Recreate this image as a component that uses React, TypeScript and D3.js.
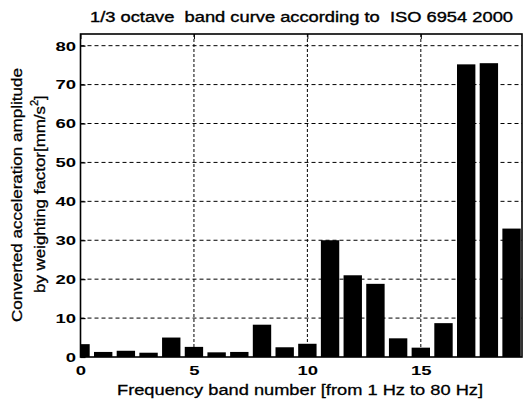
import React, { useEffect, useRef } from "react";
import * as d3 from "d3";

// band index 0..19 (1 Hz .. 80 Hz)
const bands = d3.range(0, 20);
const amplitudes = [
  3.3, 1.3, 1.6, 1.1, 5.0, 2.6, 1.2, 1.3, 8.3, 2.5,
  3.4, 30.0, 21.0, 18.8, 4.8, 2.4, 8.7, 75.2, 75.5, 33.0,
];
const yTicks = [0, 10, 20, 30, 40, 50, 60, 70, 80];
const xTicks = [0, 5, 10, 15];

const title = "1/3 octave  band curve according to  ISO 6954 2000";
const xLabel = "Frequency band number [from 1 Hz to 80 Hz]";
const yLabel1 = "Converted acceleration amplitude";
const yLabel2 = "by weighting factor[mm/s";

const App = () => {
  const ref = useRef<SVGSVGElement>(null);

  useEffect(() => {
    document.body.style.margin = "0";
    const width = 523;
    const height = 405;
    const margin = { top: 34, left: 80.5, bottom: 48, right: 1 };
    const font = "Liberation Sans, Arial, sans-serif";

    const svg = d3.select(ref.current);
    svg.selectAll("*").remove();
    svg.attr("width", width).attr("height", height).style("background", "#fff")
      .style("display", "block");

    const x = d3
      .scaleLinear()
      .domain([0, 19.46])
      .range([margin.left, width - margin.right]);
    const y = d3
      .scaleLinear()
      .domain([0, 83])
      .range([height - margin.bottom, margin.top]);

    const data = bands.map((b, i) => ({ band: b, value: amplitudes[i] }));
    const bw = (x(1) - x(0)) * 0.81;

    svg
      .append("clipPath")
      .attr("id", "plotclip")
      .append("rect")
      .attr("x", margin.left)
      .attr("y", margin.top)
      .attr("width", width - margin.right - margin.left)
      .attr("height", height - margin.bottom - margin.top);

    // grid
    const grid = svg.append("g").attr("stroke", "#000").attr("stroke-width", 1);
    grid
      .selectAll("line.h")
      .data(yTicks.filter((d) => d > 0))
      .enter()
      .append("line")
      .attr("stroke-dasharray", "4,3")
      .attr("x1", margin.left)
      .attr("x2", width - margin.right)
      .attr("y1", (d) => y(d))
      .attr("y2", (d) => y(d));
    grid
      .selectAll("line.v")
      .data(xTicks.filter((d) => d > 0))
      .enter()
      .append("line")
      .attr("stroke-dasharray", "3,2")
      .attr("x1", (d) => x(d))
      .attr("x2", (d) => x(d))
      .attr("y1", margin.top)
      .attr("y2", height - margin.bottom);

    // bars
    svg
      .append("g")
      .attr("clip-path", "url(#plotclip)")
      .selectAll("rect")
      .data(data)
      .enter()
      .append("rect")
      .attr("x", (d) => x(d.band) - bw / 2)
      .attr("y", (d) => y(d.value))
      .attr("width", bw)
      .attr("height", (d) => y(0) - y(d.value))
      .attr("fill", "#000");

    // box
    svg
      .append("rect")
      .attr("x", margin.left)
      .attr("y", margin.top)
      .attr("width", width - margin.right - margin.left)
      .attr("height", height - margin.bottom - margin.top)
      .attr("fill", "none")
      .attr("stroke", "#000")
      .attr("stroke-width", 1.6);

    // axes
    const xAxis = svg
      .append("g")
      .attr("transform", `translate(0, ${height - margin.bottom})`)
      .call(d3.axisBottom(x).tickValues(xTicks).tickSize(-5).tickPadding(8).tickSizeOuter(0));
    const yAxis = svg
      .append("g")
      .attr("transform", `translate(${margin.left}, 0)`)
      .call(d3.axisLeft(y).tickValues(yTicks).tickSize(-5).tickPadding(4.5).tickSizeOuter(0));
    svg
      .append("g")
      .attr("transform", `translate(0, ${margin.top})`)
      .call(d3.axisTop(x).tickValues(xTicks).tickSize(-5).tickFormat(() => "").tickSizeOuter(0))
      .call((g) => g.select(".domain").remove());
    [xAxis, yAxis].forEach((g) => {
      g.select(".domain").remove();
      g.selectAll("line").attr("stroke-width", 1.2);
      g.selectAll<SVGTextElement, number>("text")
        .attr("font-family", font)
        .attr("font-size", 13.5)
        .attr("font-weight", "bold")
        .attr("fill", "#000")
        .attr("textLength", (d) => String(d).length * 10.3)
        .attr("lengthAdjust", "spacingAndGlyphs");
    });

    // title
    svg
      .append("text")
      .attr("x", 301.5)
      .attr("y", 22)
      .attr("text-anchor", "middle")
      .attr("font-family", font)
      .attr("font-size", 14)
      .attr("stroke", "#000")
      .attr("stroke-width", 0.35)
      .attr("textLength", 423)
      .attr("lengthAdjust", "spacingAndGlyphs")
      .style("white-space", "pre")
      .text(title);

    // x label
    svg
      .append("text")
      .attr("x", 300)
      .attr("y", 395)
      .attr("text-anchor", "middle")
      .attr("font-family", font)
      .attr("font-size", 15.5)
      .attr("stroke", "#000")
      .attr("stroke-width", 0.3)
      .attr("textLength", 366)
      .attr("lengthAdjust", "spacingAndGlyphs")
      .text(xLabel);

    // y label, two lines
    svg
      .append("text")
      .attr("transform", `translate(22, 195) rotate(-90)`)
      .attr("text-anchor", "middle")
      .attr("font-family", font)
      .attr("font-size", 15.5)
      .attr("stroke", "#000")
      .attr("stroke-width", 0.3)
      .attr("textLength", 254)
      .attr("lengthAdjust", "spacingAndGlyphs")
      .text(yLabel1);

    const yl = svg
      .append("text")
      .attr("transform", `translate(45, 293) rotate(-90)`)
      .attr("text-anchor", "start")
      .attr("font-family", font)
      .attr("font-size", 15.5)
      .attr("stroke", "#000")
      .attr("stroke-width", 0.3);
    yl.append("tspan")
      .attr("textLength", 187)
      .attr("lengthAdjust", "spacingAndGlyphs")
      .text(yLabel2);
    yl.append("tspan").attr("font-size", 11).attr("dy", -7).text("2");
    yl.append("tspan").attr("dy", 7).text("]");
  }, []);

  return <svg ref={ref}></svg>;
};

export default App;
